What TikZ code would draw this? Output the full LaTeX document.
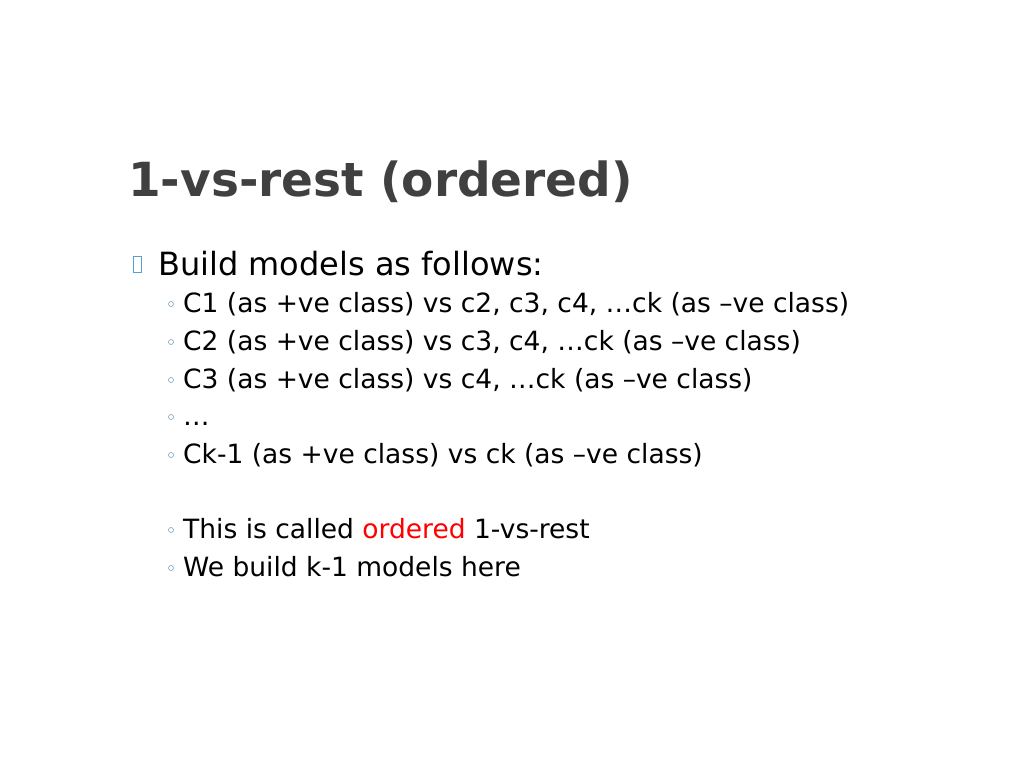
\documentclass[tikz,border=0pt]{standalone}
\usepackage{fontspec}
\setmainfont{DejaVu Sans}
\definecolor{titlegray}{RGB}{64,64,64}
\definecolor{boxblue}{RGB}{90,160,200}
\definecolor{dotblue}{RGB}{120,160,190}
\tikzset{
  slidetitle/.style={anchor=base west, inner sep=0pt, text=titlegray, font=\bfseries\fontsize{47}{52}\selectfont},
  mainitem/.style={anchor=base west, inner sep=0pt, font=\fontsize{32}{36}\selectfont},
  subitem/.style={anchor=base west, inner sep=0pt, font=\fontsize{26.5}{30}\selectfont},
  subdot/.style={draw=dotblue, circle, inner sep=0pt, minimum size=5pt, line width=0.6pt}
}
\begin{document}
\begin{tikzpicture}[x=1pt,y=-1pt]
  \useasboundingbox (0,0) rectangle (1024,768);
  \node[slidetitle] (title) at (128,196) {1-vs-rest (ordered)};
  % top level item
  \draw[boxblue, line width=0.8pt] (133,256) rectangle (141,272);
  \node[mainitem] (build) at (158,275) {Build models as follows:};
  % sub items
  \foreach \y/\txt [count=\k] in {
      312/{C1 (as +ve class) vs c2, c3, c4, …ck (as –ve class)},
      350/{C2 (as +ve class) vs c3, c4, …ck (as –ve class)},
      388/{C3 (as +ve class) vs c4, …ck (as –ve class)},
      425/{…},
      463/{Ck-1 (as +ve class) vs ck (as –ve class)},
      538/{This is called \textcolor{red}{ordered} 1-vs-rest},
      576/{We build k-1 models here}}
  {
    \node[subdot] (dot\k) at (171,\y-8) {};
    \node[subitem] (item\k) at (183,\y) {\txt};
  }
\end{tikzpicture}
\end{document}
